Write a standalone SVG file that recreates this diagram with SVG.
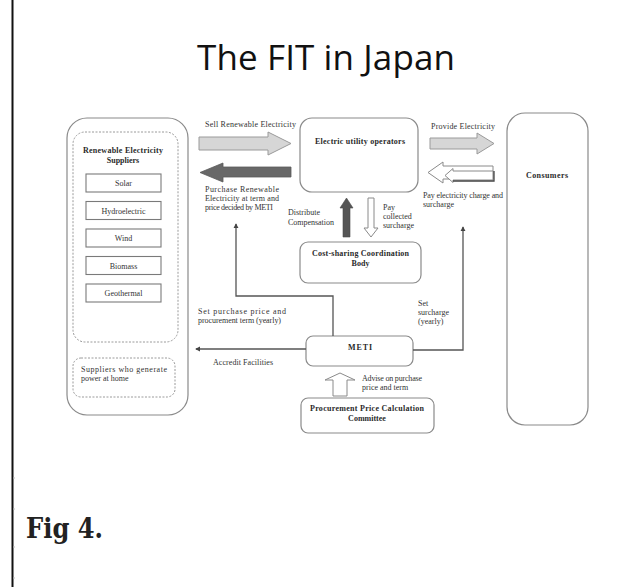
<svg xmlns="http://www.w3.org/2000/svg" width="623" height="587" viewBox="0 0 623 587">
<defs>
<style>
.box{fill:#fff;stroke:#8a8a8a;stroke-width:1.2}
.sub{fill:#fff;stroke:#7a7a7a;stroke-width:1.1}
.dash{fill:none;stroke:#9a9a9a;stroke-width:1;stroke-dasharray:2 1.5}
.t{font-family:"Liberation Serif","Times New Roman",serif;font-size:8px;fill:#333}
.b{font-weight:bold;fill:#2a2a2a}
.m{text-anchor:middle}
.conn{fill:none;stroke:#555;stroke-width:1.3}
.light{fill:#d6d6d6;stroke:#9a9a9a;stroke-width:1}
.hollow{fill:#fff;stroke:#8a8a8a;stroke-width:1}
</style>
<marker id="ah" viewBox="0 0 6 6" refX="5" refY="3" markerWidth="4" markerHeight="4" orient="auto">
<path d="M0,0 L6,3 L0,6 z" fill="#444"/>
</marker>
</defs>
<rect x="0" y="0" width="623" height="587" fill="#fff"/>
<line x1="12.5" y1="0" x2="12.5" y2="587" stroke="#111" stroke-width="2"/>
<g stroke="#bbb" stroke-width="1">
<line x1="13" y1="478" x2="15" y2="478"/><line x1="13" y1="509" x2="15" y2="509"/><line x1="13" y1="547" x2="15" y2="547"/><line x1="13" y1="578" x2="15" y2="578"/>
</g>
<text x="326" y="70" text-anchor="middle" font-family="'Open Sans','Noto Sans',sans-serif" font-size="35" fill="#111" textLength="258">The FIT in Japan</text>

<g id="suppliers">
<rect class="box" x="67" y="118" width="121" height="297" rx="20"/>
</g>
<g id="renewable-suppliers">
<rect class="dash" x="73" y="132" width="105" height="210" rx="12"/>
<text class="t b m" x="123" y="153" textLength="80">Renewable Electricity</text>
<text class="t b m" x="123" y="163">Suppliers</text>
</g>
<g id="solar"><rect class="sub" x="86" y="174" width="75" height="18"/><text class="t m" x="123.5" y="186">Solar</text></g>
<g id="hydroelectric"><rect class="sub" x="86" y="201.5" width="75" height="18"/><text class="t m" x="123.5" y="213.5">Hydroelectric</text></g>
<g id="wind"><rect class="sub" x="86" y="229" width="75" height="18"/><text class="t m" x="123.5" y="241">Wind</text></g>
<g id="biomass"><rect class="sub" x="86" y="256.5" width="75" height="18"/><text class="t m" x="123.5" y="268.5">Biomass</text></g>
<g id="geothermal"><rect class="sub" x="86" y="284" width="75" height="18"/><text class="t m" x="123.5" y="296">Geothermal</text></g>
<g id="home-suppliers">
<rect class="dash" x="73" y="358" width="102" height="39" rx="8"/>
<text class="t" x="81" y="371.5" textLength="86">Suppliers who generate</text>
<text class="t" x="81" y="380.5">power at home</text>
</g>
<g id="utility">
<rect class="box" x="300" y="118" width="118" height="74" rx="12"/>
<text class="t b m" x="360" y="144" textLength="90">Electric utility operators</text>
</g>
<g id="consumers">
<rect class="box" x="507" y="113" width="81" height="312" rx="18"/>
<text class="t b m" x="547" y="178" textLength="42">Consumers</text>
</g>
<g id="cost-sharing">
<rect class="box" x="300" y="242" width="121" height="41" rx="8"/>
<text class="t b m" x="360.5" y="256" textLength="97">Cost-sharing Coordination</text>
<text class="t b m" x="360.5" y="266">Body</text>
</g>
<g id="meti">
<rect class="box" x="306" y="336" width="107" height="30" rx="7"/>
<text class="t b m" x="360" y="349.5" textLength="24">METI</text>
</g>
<g id="committee">
<rect class="box" x="301" y="398" width="133" height="35" rx="7"/>
<text class="t b m" x="367" y="411" textLength="114">Procurement Price Calculation</text>
<text class="t b m" x="367" y="421">Committee</text>
</g>

<g id="connectors">
<polygon class="light" points="199,137 268,137 268,132 291,143.5 268,155 268,150 199,150"/>
<text class="t" x="205" y="127" textLength="91">Sell Renewable Electricity</text>
<polygon fill="#686868" stroke="#5a5a5a" stroke-width="0.8" points="291,167 223,167 223,163 200,172.5 223,182 223,177 291,177"/>
<text class="t" x="205" y="192" textLength="74">Purchase Renewable</text>
<text class="t" x="205" y="201" textLength="74">Electricity at term and</text>
<text class="t" x="205" y="210" textLength="68">price decided by METI</text>

<polygon class="light" points="430,138 477,138 477,133 494,143.5 477,154 477,149 430,149"/>
<text class="t" x="431" y="129" textLength="64">Provide Electricity</text>
<polygon class="hollow" points="428,172.5 443,162 443,166 493,166 493,179 443,179 443,183"/>
<polygon class="hollow" points="445,175.5 453,168.5 453,171 493,171 493,180 453,180 453,182.5"/>
<polyline fill="none" stroke="#444" stroke-width="1.3" points="453,181 494,181 494,171"/>
<text class="t" x="423" y="198" textLength="80">Pay electricity charge and</text>
<text class="t" x="423" y="207">surcharge</text>

<polygon fill="#555" stroke="#4a4a4a" stroke-width="0.6" points="346.5,198 353,208 350,208 350,237 343,237 343,208 340,208"/>
<text class="t" x="288" y="214.5">Distribute</text>
<text class="t" x="288" y="224.5" textLength="46">Compensation</text>
<polygon class="hollow" points="368,198 374,198 374,228 378,228 371,237 364,228 368,228"/>
<text class="t" x="383" y="209.5">Pay</text>
<text class="t" x="383" y="218.5">collected</text>
<text class="t" x="383" y="227.5">surcharge</text>

<polyline class="conn" points="333,336 333,296 236,296 236,224" marker-end="url(#ah)"/>
<text class="t" x="198" y="314" textLength="88">Set purchase price and</text>
<text class="t" x="198" y="323" textLength="83">procurement term (yearly)</text>
<line class="conn" x1="306" y1="349" x2="196" y2="349" marker-end="url(#ah)"/>
<text class="t" x="213" y="365" textLength="60">Accredit Facilities</text>
<polyline class="conn" points="413,350 463,350 463,227" marker-end="url(#ah)"/>
<text class="t" x="418" y="305.5">Set</text>
<text class="t" x="418" y="314.5">surcharge</text>
<text class="t" x="418" y="323.5">(yearly)</text>

<polygon class="hollow" points="340,373 355,380 347,380 347,396 333,396 333,380 325,380"/>
<text class="t" x="362" y="380.5" textLength="60">Advise on purchase</text>
<text class="t" x="362" y="389.5">price and term</text>
</g>

<text x="26" y="538" font-family="'DejaVu Serif','Liberation Serif',serif" font-weight="bold" font-size="27" fill="#222" textLength="77" lengthAdjust="spacingAndGlyphs">Fig 4.</text>
</svg>
